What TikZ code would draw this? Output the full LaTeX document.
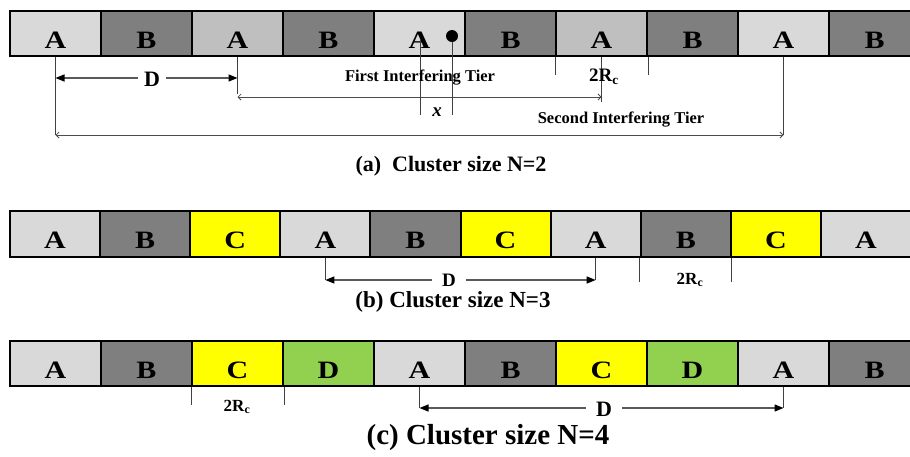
\documentclass[tikz,border=0pt]{standalone}
\usepackage{fontspec}
\setmainfont{Liberation Serif}
\newfontfamily\cellfont[FakeStretch=1.2]{Liberation Serif}
\usetikzlibrary{arrows.meta}
\definecolor{lightA}{HTML}{D9D9D9}
\definecolor{midA}{HTML}{BFBFBF}
\definecolor{grayB}{HTML}{7F7F7F}
\definecolor{yellC}{HTML}{FFFF00}
\definecolor{greenD}{HTML}{92D050}
\begin{document}
\begin{tikzpicture}[x=1pt,y=-1pt,
  cell/.style={draw=black, line width=2pt, minimum height=45pt, inner sep=0pt,
    anchor=north west, text height=29pt, text depth=0pt,
    font=\cellfont\bfseries\fontsize{25}{25}\selectfont},
  cella/.style={cell, minimum width=91pt},
  cellb/.style={cell, minimum width=90.1pt, minimum height=46pt},
  lead/.style={draw=black!75, line width=0.9pt},
  tier/.style={draw=black!70, line width=0.8pt,
    arrows={Straight Barb[length=3pt,width=6pt]-Straight Barb[length=3pt,width=6pt]}},
  darrow/.style={draw=black!65, line width=1.3pt,
    arrows={Triangle[length=9pt,width=7pt,color=black]-Triangle[length=9pt,width=7pt,color=black]}},
  lbl/.style={inner sep=1pt, font=\bfseries\fontsize{16.5}{18}\selectfont},
  dlbl/.style={fill=white, inner sep=2pt, font=\bfseries\fontsize{22}{22}\selectfont},
  rc/.style={inner sep=0pt, font=\bfseries\fontsize{17}{18}\selectfont},
  captxt/.style={inner sep=0pt, font=\bfseries\fontsize{22}{24}\selectfont}]
\useasboundingbox (0,0) rectangle (910,456);
\clip (0,0) rectangle (910,456);

% ---------------- Row (a) ----------------
\foreach \i/\c/\t in {1/lightA/A,2/grayB/B,3/midA/A,4/grayB/B,5/lightA/A,6/grayB/B,7/midA/A,8/grayB/B,9/lightA/A,10/grayB/B}
  \node[cella, fill=\c] (a\i) at ({9+91*(\i-1)},10) {\t};
\node[circle, fill=black, minimum size=12pt, inner sep=0pt] (dot) at (452,36) {};

\coordinate (yTa) at (0,135);
\coordinate (yDa) at (0,78);
\coordinate (yFa) at (0,97);
\coordinate (yFv) at (0,94);
\coordinate (yFw) at (0,102);
\coordinate (yKa) at (0,75);
\coordinate (xa) at (420,40);
\coordinate (xb) at (420,115);

\draw[lead] (a1.south) -- (a1.south |- yTa);
\draw[lead] (a9.south) -- (a9.south |- yTa);
\draw[tier] (a1.south |- yTa) -- (a9.south |- yTa);

\draw[lead] (a3.south) -- (a3.south |- yFv);
\draw[lead] (a7.south) -- (a7.south |- yFw);
\draw[tier] (a3.south |- yFa) -- (a7.south |- yFa);

\draw[darrow] (a1.south |- yDa) -- (a3.south |- yDa);
\node[dlbl, inner xsep=6pt] (Da) at (152,79) {D};

\draw[lead] (xa) -- (xb);
\draw[lead] (dot) -- (dot |- xb);
\node[inner sep=0pt, font=\itshape\bfseries\fontsize{19}{20}\selectfont] (xlab) at (437,112) {x};

\draw[lead] (a7.south west) -- (a7.south west |- yKa);
\draw[lead] (a7.south east) -- (a7.south east |- yKa);
\node[rc, font=\bfseries\fontsize{19}{20}\selectfont] (rca) at (604,77) {2R\textsubscript{c}};

\node[lbl] (first) at (420,78) {First Interfering Tier};
\node[lbl] (second) at (621,120) {Second Interfering Tier};
\node[captxt] (capa) at (451,166) {(a)\ \ Cluster size N=2};

% ---------------- Row (b) ----------------
\foreach \i/\c/\t in {1/lightA/A,2/grayB/B,3/yellC/C,4/lightA/A,5/grayB/B,6/yellC/C,7/lightA/A,8/grayB/B,9/yellC/C,10/lightA/A}
  \node[cellb, fill=\c] (b\i) at ({9+90.1*(\i-1)},210) {\t};

\coordinate (yDb) at (0,280);
\coordinate (yKb) at (0,282);
\draw[lead] (b4.south) -- (b4.south |- yDb);
\draw[lead] (b7.south) -- (b7.south |- yDb);
\draw[darrow] (b4.south |- yDb) -- (b7.south |- yDb);
\node[dlbl, inner ysep=0pt, inner xsep=10pt, font=\bfseries\fontsize{19}{19}\selectfont] (Db) at (449,280) {D};
\draw[lead] (b8.south west) -- (b8.south west |- yKb);
\draw[lead] (b8.south east) -- (b8.south east |- yKb);
\node[rc] (rcb) at (690,280) {2R\textsubscript{c}};
\node[captxt, font=\bfseries\fontsize{23}{24}\selectfont] (capb) at (453,302) {(b) Cluster size N=3};

% ---------------- Row (c) ----------------
\foreach \i/\c/\t in {1/lightA/A,2/grayB/B,3/yellC/C,4/greenD/D,5/lightA/A,6/grayB/B,7/yellC/C,8/greenD/D,9/lightA/A,10/grayB/B}
  \node[cella, fill=\c] (c\i) at ({9+91*(\i-1)},340) {\t};

\coordinate (yDc) at (0,408);
\coordinate (yKc) at (0,405);
\draw[lead] (c3.south west) -- (c3.south west |- yKc);
\draw[lead] (c3.south east) -- (c3.south east |- yKc);
\node[rc] (rcc) at (237,407) {2R\textsubscript{c}};
\draw[lead] (c5.south) -- (c5.south |- yDc);
\draw[lead] (c9.south) -- (c9.south |- yDc);
\draw[darrow] (c5.south |- yDc) -- (c9.south |- yDc);
\node[dlbl, inner xsep=10pt] (Dc) at (604,409) {D};
\node[captxt, font=\bfseries\fontsize{29}{30}\selectfont] (capc) at (488,438) {(c) Cluster size N=4};
\end{tikzpicture}
\end{document}
